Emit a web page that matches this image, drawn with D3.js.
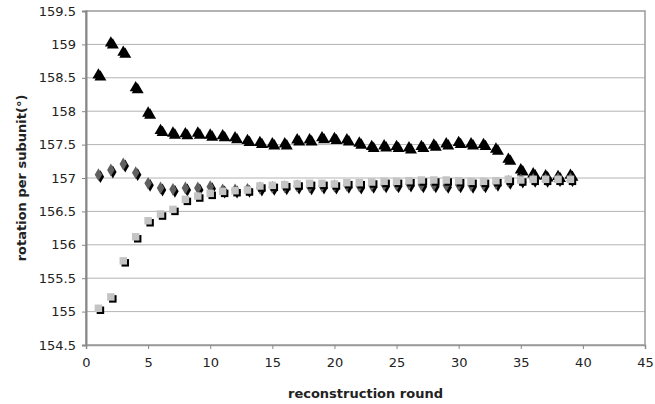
<!DOCTYPE html>
<html>
<head>
<meta charset="utf-8">
<script src="https://cdn.jsdelivr.net/npm/d3@7"></script>
<style>
  html, body { margin: 0; padding: 0; background: #fff; }
  svg { display: block; }
  text { font-family: "DejaVu Sans", Verdana, sans-serif; fill: #222; }
</style>
</head>
<body>
<svg id="chart" width="655" height="404"></svg>
<script>
// reconstruction rounds
const rounds = d3.range(1, 40);

// rotation per subunit, three refinement runs
const seriesTriangle = [
  158.54, 159.02, 158.88, 158.35, 157.97, 157.71, 157.67, 157.66, 157.67, 157.64,
  157.63, 157.60, 157.56, 157.53, 157.51, 157.51, 157.57, 157.57, 157.60, 157.59,
  157.57, 157.52, 157.47, 157.48, 157.47, 157.45, 157.47, 157.49, 157.51, 157.53,
  157.51, 157.50, 157.43, 157.28, 157.12, 157.06, 157.03, 157.02, 157.04
];
const seriesDiamond = [
  157.05, 157.12, 157.21, 157.08, 156.92, 156.85, 156.83, 156.85, 156.85, 156.87,
  156.82, 156.82, 156.83, 156.85, 156.86, 156.87, 156.88, 156.87, 156.88, 156.88,
  156.89, 156.88, 156.89, 156.90, 156.90, 156.91, 156.90, 156.90, 156.89, 156.90,
  156.89, 156.90, 156.92, 156.95, 156.97, 156.98, 156.98, 156.99, 156.99
];
const seriesSquare = [
  155.05, 155.22, 155.76, 156.12, 156.36, 156.46, 156.53, 156.68, 156.73, 156.77,
  156.80, 156.81, 156.82, 156.88, 156.89, 156.90, 156.91, 156.92, 156.92, 156.91,
  156.93, 156.93, 156.94, 156.95, 156.95, 156.96, 156.97, 156.97, 156.97, 156.96,
  156.95, 156.95, 156.96, 156.98, 156.97, 156.98, 156.98, 156.98, 156.98
];

const xTicks = [0, 5, 10, 15, 20, 25, 30, 35, 40, 45];
const yTicks = [154.5, 155, 155.5, 156, 156.5, 157, 157.5, 158, 158.5, 159, 159.5];

const svg = d3.select("#chart");
const plotLeft = 86, plotRight = 645, plotTop = 11, plotBottom = 345;

const x = d3.scaleLinear().domain([0, 45]).range([plotLeft, plotRight]);
const y = d3.scaleLinear().domain([154.5, 159.5]).range([plotBottom, plotTop]);

// horizontal gridlines
svg.append("g").selectAll("line")
  .data(yTicks.slice(1, -1))
  .join("line")
  .attr("x1", plotLeft).attr("x2", plotRight)
  .attr("y1", d => y(d)).attr("y2", d => y(d))
  .attr("stroke", "#b4b4b4").attr("stroke-width", 1);

// plot frame
svg.append("rect")
  .attr("x", plotLeft).attr("y", plotTop)
  .attr("width", plotRight - plotLeft).attr("height", plotBottom - plotTop)
  .attr("fill", "none").attr("stroke", "#9a9a9a").attr("stroke-width", 1.5);

// y axis
const yAxis = d3.axisLeft(y).tickValues(yTicks).tickSize(4).tickPadding(6)
  .tickFormat(d => String(d));
const gy = svg.append("g").attr("transform", `translate(${plotLeft},0)`).call(yAxis);
gy.select(".domain").attr("stroke", "#888").attr("stroke-width", 2);
gy.selectAll(".tick line").attr("stroke", "#888");
gy.selectAll(".tick text").attr("font-size", 13).attr("fill", "#222")
  .style("font-family", '"DejaVu Sans", Verdana, sans-serif');

// x axis
const xAxis = d3.axisBottom(x).tickValues(xTicks).tickSize(4).tickPadding(9);
const gx = svg.append("g").attr("transform", `translate(0,${plotBottom})`).call(xAxis);
gx.select(".domain").attr("stroke", "#9a9a9a").attr("stroke-width", 1.5);
gx.selectAll(".tick line").attr("stroke", "#888");
gx.selectAll(".tick text").attr("font-size", 13).attr("fill", "#222")
  .style("font-family", '"DejaVu Sans", Verdana, sans-serif');

// axis titles
svg.append("text")
  .attr("x", (plotLeft + plotRight) / 2).attr("y", 398)
  .attr("text-anchor", "middle")
  .attr("font-size", 13).attr("font-weight", "bold")
  .text("reconstruction round");

svg.append("text")
  .attr("transform", `translate(26,${(plotTop + plotBottom) / 2}) rotate(-90)`)
  .attr("text-anchor", "middle")
  .attr("font-size", 13).attr("font-weight", "bold")
  .text("rotation per subunit(°)");

// markers with a dark drop shadow
function drawSeries(values, symbolType, size, fill) {
  const sym = d3.symbol().type(symbolType).size(size);
  const pts = rounds.map((r, i) => [r, values[i]]);
  const g = svg.append("g");
  g.selectAll("path.shadow")
    .data(pts).join("path")
    .attr("class", "shadow")
    .attr("d", sym)
    .attr("transform", d => `translate(${x(d[0]) + 2},${y(d[1]) + 2})`)
    .attr("fill", "#000");
  g.selectAll("path.mark")
    .data(pts).join("path")
    .attr("class", "mark")
    .attr("d", sym)
    .attr("transform", d => `translate(${x(d[0])},${y(d[1])})`)
    .attr("fill", fill);
}

drawSeries(seriesTriangle, d3.symbolTriangle, 62, "#000");
drawSeries(seriesDiamond, d3.symbolDiamond, 48, "#606060");
drawSeries(seriesSquare, d3.symbolSquare, 56, "#c4c4c4");
</script>
</body>
</html>
